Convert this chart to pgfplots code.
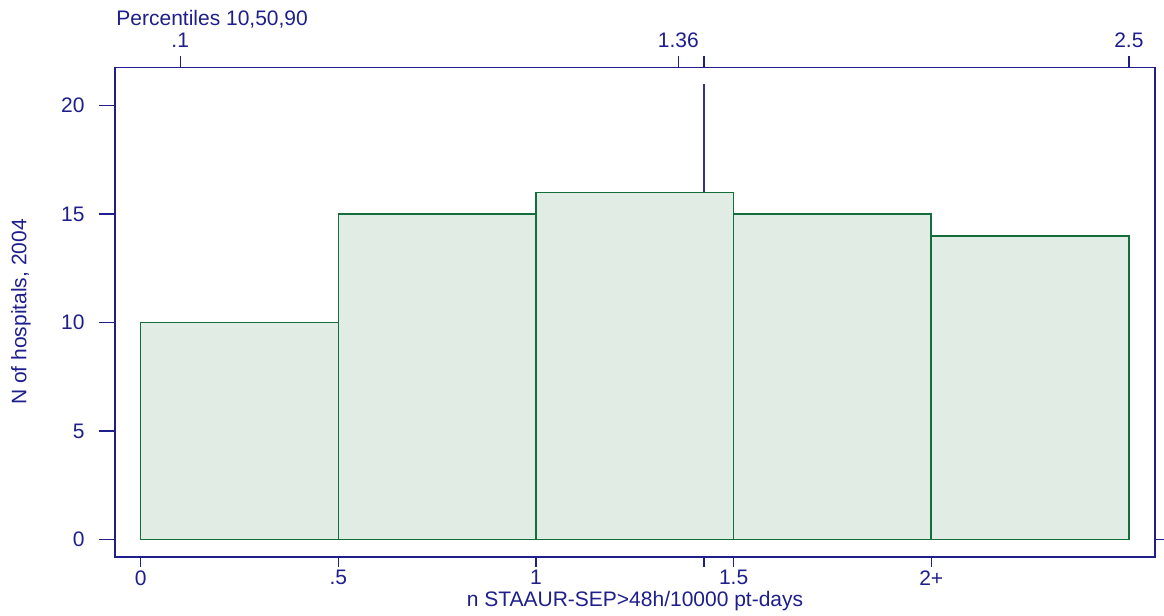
\documentclass[border=0pt]{standalone}
\usepackage{pgfplots}
\pgfplotsset{compat=1.18}
\usepackage{fontspec}
\setmainfont{Liberation Sans}
\definecolor{navy}{RGB}{30,30,140}
\definecolor{refline}{RGB}{50,50,150}
\definecolor{bargreen}{RGB}{20,110,60}
\definecolor{barfill}{RGB}{224,236,228}
\begin{document}
\begin{tikzpicture}[x=0.5pt,y=0.5pt,font=\fontsize{10.5}{12}\selectfont]
\useasboundingbox (0,0) rectangle (1164,616);
\pgfplotsset{
  base/.style={at={(57.5pt,29.5pt)}, anchor=south west, scale only axis,
    width=520pt, height=244.85pt,
    xmin=-0.065, xmax=2.566, ymin=-0.8, ymax=21.77,
    tick align=outside, clip=false,
    /pgf/number format/assume math mode=true,
    tick label style={navy, font=\fontsize{10.5}{12}\selectfont},
    label style={navy, font=\fontsize{10.5}{12}\selectfont},
    tick style={navy, line width=0.7pt},
  }
}
% main axis: bars, box, y ticks
\begin{axis}[base,
  axis line style={navy, line width=0.7pt},
  xtick=\empty,
  ytick={0,5,10,15,20}, ytick pos=left,
  major tick length=8pt,
  yticklabel style={anchor=east, inner sep=0pt, xshift=-15pt+8pt},
]
\addplot[refline, line width=0.7pt] coordinates {(1.425,0) (1.425,21)};
\addplot[ybar interval, draw=bargreen, fill=barfill, line width=0.8pt]
  coordinates {(0,10) (0.5,15) (1,16) (1.5,15) (2,14) (2.5,14)};
\draw[navy, line width=0.7pt] (axis cs:2.566,0) -- (axis cs:2.6065,0);
\end{axis}
% bottom x axis ticks
\begin{axis}[base,
  axis line style={draw=none},
  ytick=\empty,
  xtick={0,0.5,1,1.5,2}, xticklabels={0,.5,1,1.5,2+},
  extra x ticks={1.425}, extra x tick labels={},
  xtick pos=bottom,
  major tick length=5pt,
  xticklabel style={anchor=north, inner sep=0pt, yshift=-1.5pt},
  xlabel={n STAAUR-SEP>48h/10000 pt-days},
  xlabel style={at={(rel axis cs:0.5,0)}, anchor=base, yshift=-25pt},
]
\end{axis}
% top percentile axis
\begin{axis}[base,
  axis line style={draw=none},
  ytick=\empty,
  xtick={0.1,1.36,1.425,2.5}, xticklabels={.1,1.36,,2.5},
  xtick pos=top, xticklabel pos=top,
  major tick length=5.5pt,
  xticklabel style={anchor=south, inner sep=0pt, yshift=4pt},
]
\end{axis}
\node[anchor=base west, inner sep=0pt, navy] at (116,590) {Percentiles 10,50,90};
\node[rotate=90, navy] at (21,304) {N of hospitals, 2004};
\end{tikzpicture}
\end{document}
